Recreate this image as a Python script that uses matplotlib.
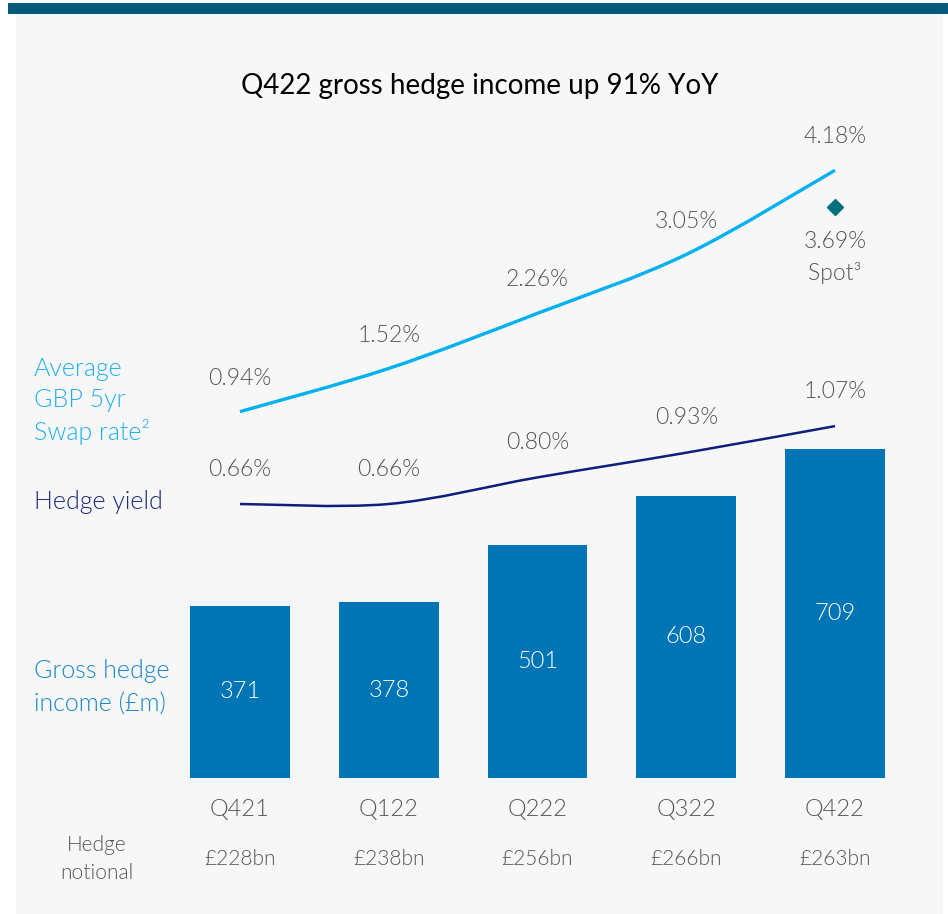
import numpy as np
import matplotlib.pyplot as plt
import matplotlib.transforms as mtransforms
from matplotlib.path import Path
from matplotlib.patches import PathPatch, Rectangle

plt.rcParams["font.family"] = ["Lato", "DejaVu Sans"]

# ── Data ─────────────────────────────────────────────────────────────────────
quarters = ["Q421", "Q122", "Q222", "Q322", "Q422"]
hedge_income = [371, 378, 501, 608, 709]          # £m
swap_rate = [0.94, 1.52, 2.26, 3.05, 4.18]        # %
hedge_yield = [0.66, 0.66, 0.80, 0.93, 1.07]      # %
notional = ["£228bn", "£238bn", "£256bn", "£266bn", "£263bn"]
spot_rate = 3.69

BAR_C = "#0075b6"
SWAP_C = "#00b0f0"
YIELD_C = "#0d1f7a"
SPOT_C = "#006f7d"
GREY = "#555555"
PANEL = "#f7f7f7"
LIGHT = 300

W, H = 948, 914


def fx(px):
    return px / W


def fy(py):
    return 1 - py / H


def smooth_path(xs, ys):
    # Catmull-Rom style bezier through the data points (Excel "smoothed line")
    xs = np.asarray(xs, float)
    ys = np.asarray(ys, float)
    n = len(xs)
    verts = [(xs[0], ys[0])]
    codes = [Path.MOVETO]
    for i in range(n - 1):
        p0 = (xs[max(i - 1, 0)], ys[max(i - 1, 0)])
        p1 = (xs[i], ys[i])
        p2 = (xs[i + 1], ys[i + 1])
        p3 = (xs[min(i + 2, n - 1)], ys[min(i + 2, n - 1)])
        c1 = (p1[0] + (p2[0] - p0[0]) / 6, p1[1] + (p2[1] - p0[1]) / 6)
        c2 = (p2[0] - (p3[0] - p1[0]) / 6, p2[1] - (p3[1] - p1[1]) / 6)
        verts += [c1, c2, p2]
        codes += [Path.CURVE4] * 3
    return Path(verts, codes)


fig = plt.figure(figsize=(W / 100, H / 100), dpi=100)
fig.patch.set_facecolor("white")

# background panel and top bar
fig.patches.append(Rectangle((fx(16), 0), fx(943) - fx(16), fy(14), transform=fig.transFigure,
                             facecolor=PANEL, edgecolor="none", zorder=-5))
fig.patches.append(Rectangle((fx(8), fy(14)), 1 - fx(8), fy(3) - fy(14), transform=fig.transFigure,
                             facecolor="#005a7a", edgecolor="none", zorder=-5))

# axes area: x centres at 240..835 px, baseline at 778 px
left, right = 165.6, 909.4
top, bottom = 100, 778
rect = [fx(left), fy(bottom), fx(right) - fx(left), fy(top) - fy(bottom)]

ax = fig.add_axes(rect)
ax.set_facecolor("none")
x = np.arange(len(quarters))
ax.set_xlim(-0.5, 4.5)
ax.set_ylim(0, (bottom - top) / 0.4645)
ax.bar(x, hedge_income, width=0.672, color=BAR_C, zorder=2)
for xi, v in zip(x, hedge_income):
    ax.text(xi, v / 2, str(v), ha="center", va="center", color="white",
            fontsize=17, fontweight=LIGHT)

ax.set_xticks(x)
ax.set_xticklabels(quarters, fontsize=17, color=GREY, fontweight=LIGHT)
ax.tick_params(axis="x", length=0, pad=15)
ax.set_yticks([])
for s in ax.spines.values():
    s.set_visible(False)

bt = mtransforms.blended_transform_factory(ax.transData, fig.transFigure)
for xi, lab in zip(x, notional):
    ax.text(xi, fy(859), lab, transform=bt, ha="center", va="center",
            fontsize=15, color=GREY, fontweight=LIGHT)

# swap rate axis (least-squares fit of the picture: 74.5 px per %)
ax_s = fig.add_axes(rect, sharex=ax)
ax_s.set_facecolor("none")
ax_s.axis("off")
s_scale, s_ref, s_py = 74.5, 2.607, 287.45
ax_s.set_ylim(s_ref - (bottom - s_py) / s_scale, s_ref + (s_py - top) / s_scale)
ax_s.add_patch(PathPatch(smooth_path(x, swap_rate), facecolor="none", edgecolor=SWAP_C,
                         lw=2.4, capstyle="butt", zorder=3))
for xi, v in zip(x, swap_rate):
    ax_s.annotate(f"{v:.2f}%", (xi, v), xytext=(0, 24), textcoords="offset points",
                  ha="center", va="center", fontsize=16.5, color=GREY, fontweight=LIGHT)
ax_s.plot([x[-1]], [spot_rate], marker="D", ms=8, color=SPOT_C, ls="none", zorder=4)
ax_s.annotate(f"{spot_rate:.2f}%", (x[-1], spot_rate), xytext=(0, -25), textcoords="offset points",
              ha="center", va="center", fontsize=16.5, color=GREY, fontweight=LIGHT)
ax_s.annotate("Spot³", (x[-1], spot_rate), xytext=(0, -48), textcoords="offset points",
              ha="center", va="center", fontsize=16.5, color=GREY, fontweight=LIGHT)

# hedge yield axis
ax_h = fig.add_axes(rect, sharex=ax)
ax_h.set_facecolor("none")
ax_h.axis("off")
h_scale = 190.0
ax_h.set_ylim(0.66 - (bottom - 504) / h_scale, 0.66 + (504 - top) / h_scale)
ax_h.add_patch(PathPatch(smooth_path(x, hedge_yield), facecolor="none", edgecolor=YIELD_C,
                         lw=1.8, capstyle="butt", zorder=3))
for xi, v in zip(x, hedge_yield):
    ax_h.annotate(f"{v:.2f}%", (xi, v), xytext=(0, 25), textcoords="offset points",
                  ha="center", va="center", fontsize=16.5, color=GREY, fontweight=LIGHT)

# title and side labels
fig.text(fx(480), fy(86), "Q422 gross hedge income up 91% YoY", ha="center", va="center",
         fontsize=20, color="black")
fig.text(fx(34), fy(401), "Average\nGBP 5yr\nSwap rate²", ha="left", va="center",
         fontsize=18, color="#1eb1ed", linespacing=1.35, fontweight=LIGHT)
fig.text(fx(34), fy(502), "Hedge yield", ha="left", va="center",
         fontsize=18, color="#1c2a80", fontweight=LIGHT)
fig.text(fx(34), fy(688), "Gross hedge\nincome (£m)", ha="left", va="center",
         fontsize=18, color="#1a86c8", linespacing=1.5, fontweight=LIGHT)
fig.text(fx(97), fy(859), "Hedge\nnotional", ha="center", va="center",
         fontsize=15, color=GREY, linespacing=1.5, fontweight=LIGHT)

fig.savefig("out.png", dpi=100, facecolor=fig.get_facecolor())
